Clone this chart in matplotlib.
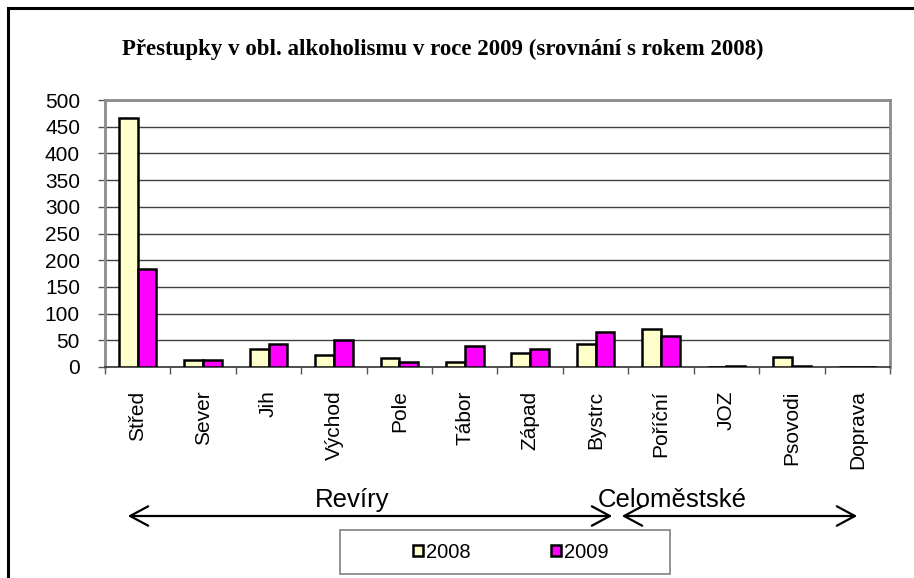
import numpy as np
import matplotlib.pyplot as plt
from matplotlib.patches import Rectangle, FancyArrowPatch

categories = ['Střed', 'Sever', 'Jih', 'Východ', 'Pole', 'Tábor',
              'Západ', 'Bystrc', 'Poříční', 'JOZ', 'Psovodi', 'Doprava']
v2008 = [467, 14, 33, 22, 16, 9, 27, 44, 72, 0, 19, 0]
v2009 = [183, 14, 43, 50, 10, 40, 34, 66, 58, 1, 2, 0]
years = ['2008', '2009']
colors = ['#FFFFCC', '#FF00FF']

W, H = 914, 578
fig = plt.figure(figsize=(W / 100, H / 100), dpi=100)
sans = 'Liberation Sans'

def fx(px):
    return px / W

def fy(py):
    return 1 - py / H

# outer chart border (runs off the right and bottom edges)
fig.patches.append(Rectangle((fx(8), fy(600)), fx(940) - fx(8), fy(8) - fy(600),
                             transform=fig.transFigure, fill=False,
                             edgecolor='black', lw=2.2, clip_on=False))

ax = fig.add_axes([fx(105), fy(367), fx(890) - fx(105), fy(100) - fy(367)])

x = np.arange(len(categories))
w = 0.286
ax.bar(x - w / 2, v2008, w, color=colors[0], edgecolor='black', lw=1.8,
       label=years[0], zorder=3)
ax.bar(x + w / 2, v2009, w, color=colors[1], edgecolor='black', lw=1.8,
       label=years[1], zorder=3)

ax.set_xlim(-0.5, len(categories) - 0.5)
ax.set_ylim(0, 500)
ax.set_yticks(np.arange(0, 501, 50))
ax.yaxis.grid(True, color='#404040', lw=1.0, zorder=1)
ax.set_axisbelow(True)

ax.set_xticks(x)
ax.set_xticklabels(categories, rotation=90, fontsize=15, family=sans)
ax.set_xticks(np.arange(-0.5, len(categories), 1), minor=True)
ax.tick_params(axis='x', which='major', length=0, pad=17)
ax.tick_params(axis='x', which='minor', length=5, width=1, color='#555555')
ax.tick_params(axis='y', length=5, width=1, color='#555555', pad=13,
               labelsize=15)
for lab in ax.get_yticklabels():
    lab.set_family(sans)

for side in ['top', 'right', 'left']:
    ax.spines[side].set_color('#8c8c8c')
    ax.spines[side].set_linewidth(2)
ax.spines['bottom'].set_color('#333333')
ax.spines['bottom'].set_linewidth(1.2)

fig.text(fx(443), fy(49), 'Přestupky v obl. alkoholismu v roce 2009 (srovnání s rokem 2008)',
         ha='center', va='center', fontsize=16.5, fontweight='bold',
         family='Liberation Serif')

# group labels with double arrows
fig.text(fx(352), fy(500), 'Revíry', ha='center', va='center', fontsize=18.5, family=sans)
fig.text(fx(672), fy(500), 'Celoměstské', ha='center', va='center', fontsize=18.5, family=sans)
for a, b in [(125, 615), (619, 860)]:
    fig.patches.append(FancyArrowPatch((fx(a), fy(516)), (fx(b), fy(516)),
                                       transform=fig.transFigure,
                                       arrowstyle='<->,head_length=13,head_width=7',
                                       lw=1.6, color='black', mutation_scale=1))

# legend box
fig.patches.append(Rectangle((fx(340), fy(574)), fx(670) - fx(340), fy(530) - fy(574),
                             transform=fig.transFigure, fill=True, facecolor='white',
                             edgecolor='#808080', lw=1.2))
leg = fig.legend(loc='center', bbox_to_anchor=(fx(511), fy(552)), ncol=2,
                 frameon=False, prop={'family': sans, 'size': 14.5},
                 handlelength=0.5, handleheight=0.5, handletextpad=0.15,
                 columnspacing=4.0)

fig.savefig('out.png', dpi=100)
